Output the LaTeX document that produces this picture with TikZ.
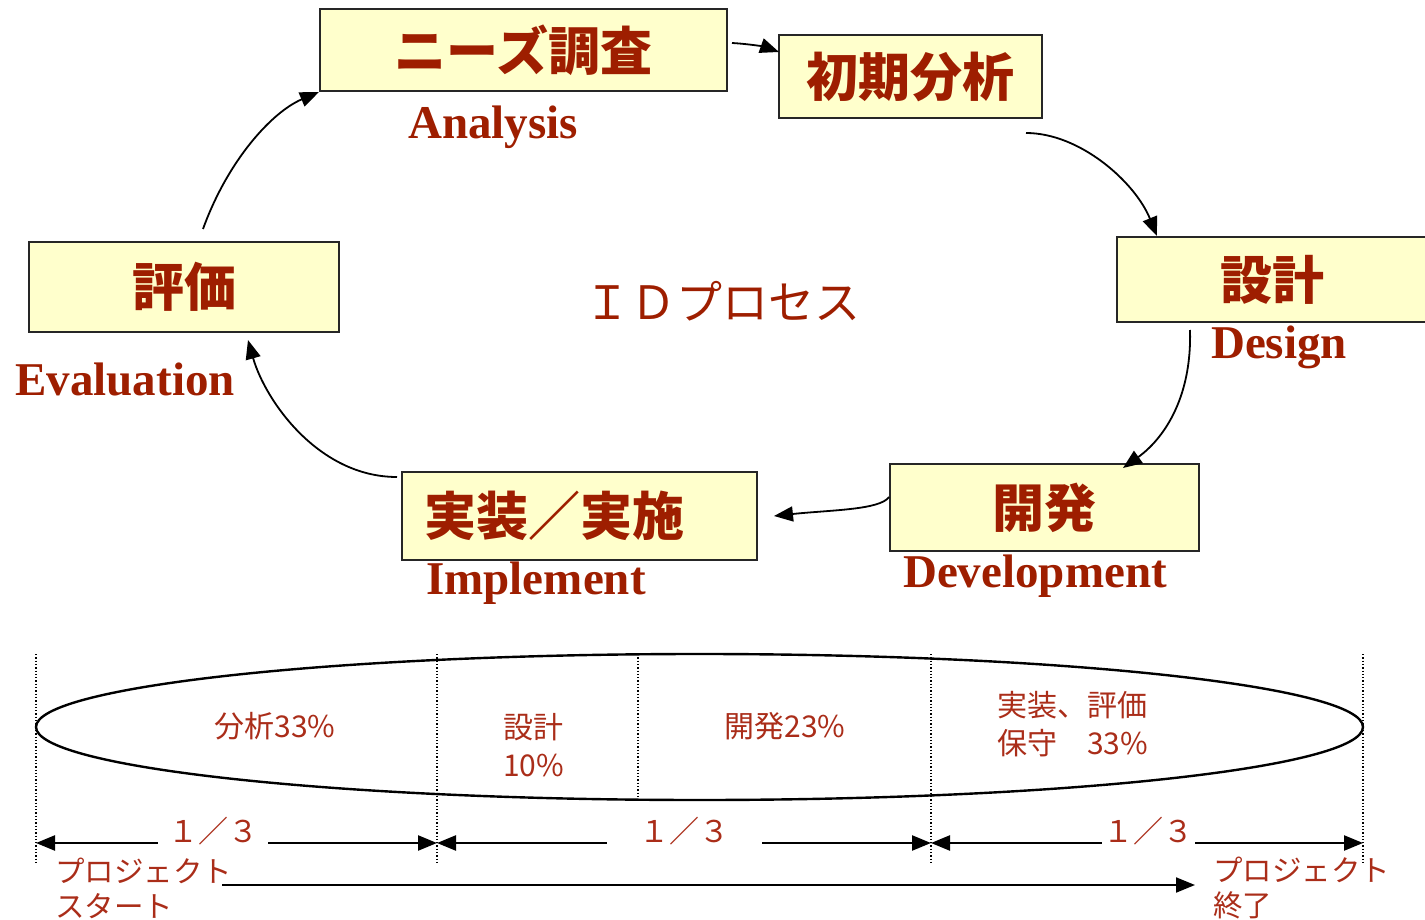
\documentclass[tikz,border=0pt]{standalone}
\usepackage{fontspec}
\setmainfont{Liberation Serif}
\newfontfamily\cjk{Noto Sans CJK JP}
\usetikzlibrary{arrows.meta,shapes.geometric}
\definecolor{boxred}{RGB}{158,30,0}
\definecolor{lowred}{RGB}{170,45,25}
\definecolor{boxfill}{RGB}{255,255,204}
\begin{document}
\begin{tikzpicture}[x=1pt,y=-1pt,
  stagebox/.style={draw=black!85, line width=2pt, fill=boxfill, inner sep=0pt,
    font=\cjk\bfseries\fontsize{52}{56}\selectfont, text=boxred},
  eng/.style={font=\bfseries\fontsize{47}{52}\selectfont, text=boxred, inner sep=0pt},
  flow/.style={-{Triangle[length=19pt,width=15pt]}, line width=1.8pt},
  low/.style={font=\cjk\fontsize{30}{38}\selectfont, text=lowred, inner sep=0pt, align=left},
  guide/.style={dotted, line width=1.3pt},
  span/.style={{Triangle[length=19pt,width=15pt]}-{Triangle[length=19pt,width=15pt]}, line width=2.4pt},
  gapfill/.style={fill=white, inner sep=0pt, minimum height=30pt, font=\cjk\fontsize{30}{36}\selectfont, text=lowred}
]
\useasboundingbox (0,0) rectangle (1425,920);

% stage boxes
\node[stagebox, minimum width=407pt, minimum height=82pt] (needs) at (523.5,50) {ニーズ調査};
\node[stagebox, minimum width=263pt, minimum height=83pt] (init) at (910.5,76.5) {初期分析};
\node[stagebox, minimum width=310pt, minimum height=85pt] (design) at (1272,279.5) {設計};
\node[stagebox, minimum width=310pt, minimum height=90pt] (eval) at (184,287) {評価};
\node[stagebox, minimum width=309pt, minimum height=87pt] (dev) at (1044.5,507.5) {開発};
\node[stagebox, minimum width=355pt, minimum height=88pt, text width=355pt] (impl) at (579.5,516) {\hspace*{22pt}実装／実施};

% english labels
\node[eng] (lanalysis) at (493,127) {Analysis};
\node[eng] (ldesign) at (1279,347) {Design};
\node[eng] (ldev) at (1035,576) {Development};
\node[eng] (limpl) at (536,583) {Implement};
\node[eng] (leval) at (125,379) {Evaluation};

% centre title
\node[font=\cjk\fontsize{46}{50}\selectfont, text=boxred, inner sep=0pt] (title) at (722,301) {ＩＤプロセス};

% connector end points
\coordinate (e1s) at (203,229);
\coordinate (e2s) at (732,43);
\coordinate (e2e) at (779,52);
\coordinate (e3s) at (1026,133);
\coordinate (e3e) at (1157,236);
\coordinate (e4s) at (1190,330);
\coordinate (e4e) at (1123,468);
\coordinate (e5s) at (889,497);
\coordinate (e5e) at (774,516);
\coordinate (e6s) at (397,477);
\coordinate (e6e) at (248,340);

\draw[flow] (e1s) .. controls (228,160) and (272,112) .. (needs.south west);
\draw[flow] (e2s) .. controls (750,44) and (765,47) .. (e2e);
\draw[flow] (e3s) .. controls (1080,133) and (1135,182) .. (e3e);
\draw[flow] (e4s) .. controls (1192,400) and (1162,440) .. (e4e);
\draw[flow] (e5s) .. controls (880,510) and (830,510) .. (e5e);
\draw[flow] (e6s) .. controls (318,477) and (265,400) .. (e6e);

% bottom ellipse
\node[draw, line width=2.4pt, ellipse, minimum width=1327pt, minimum height=146pt, inner sep=0pt] (phase) at (699.5,727) {};

% dotted guides
\coordinate (g0t) at (36,654);   \coordinate (g0b) at (36,863);
\coordinate (g1t) at (437,654);  \coordinate (g1b) at (437,863);
\coordinate (g2t) at (638,654);  \coordinate (g2b) at (638,800);
\coordinate (g3t) at (931,654);  \coordinate (g3b) at (931,863);
\coordinate (g4t) at (1363,654); \coordinate (g4b) at (1363,863);
\draw[guide] (g0t) -- (g0b);
\draw[guide] (g1t) -- (g1b);
\draw[guide] (g2t) -- (g2b);
\draw[guide] (g3t) -- (g3b);
\draw[guide] (g4t) -- (g4b);

% phase labels
\node[low, anchor=center] (p1) at (275,726) {分析33\%};
\node[low, anchor=west] (p2) at (503,745) {設計\\10\%};
\node[low, anchor=center] (p3) at (785,726) {開発23\%};
\node[low, anchor=west] (p4) at (997,724) {実装、評価\\保守\hspace{1em}33\%};

% one-third spans
\coordinate (s0) at (36,843);
\coordinate (s1) at (437,843);
\coordinate (s2) at (931,843);
\coordinate (s3) at (1363,843);
\draw[span] (s0) -- (s1);
\draw[span] (s1) -- (s2);
\draw[span] (s2) -- (s3);
\node[gapfill, minimum width=110pt] (t1) at (213,831) {１／３};
\node[gapfill, minimum width=155pt] (t2) at (684.5,831) {１／３};
\node[gapfill, minimum width=93pt] (t3) at (1148,831) {１／３};

% project start / end
\node[low, anchor=west, font=\cjk\fontsize{29.5}{35}\selectfont] (pstart) at (55,888) {プロジェクト\\スタート};
\node[low, anchor=west, font=\cjk\fontsize{29.5}{35}\selectfont] (pend) at (1213,888) {プロジェクト\\終了};
\coordinate (pa) at (222,885);
\coordinate (pb) at (1195,885);
\draw[flow, line width=2pt] (pa) -- (pb);
\end{tikzpicture}
\end{document}
